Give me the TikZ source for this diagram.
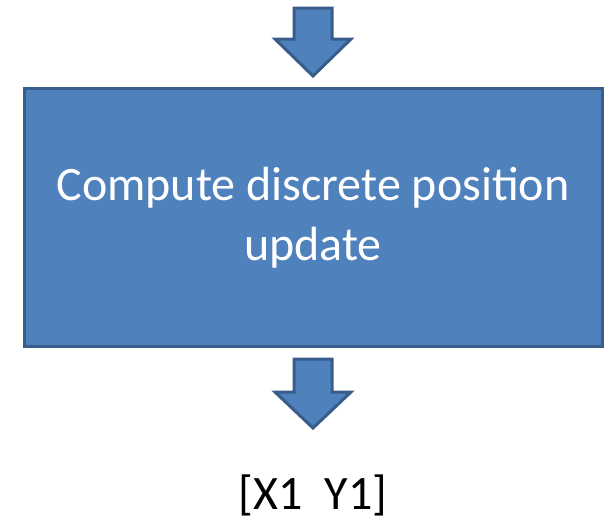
\documentclass[tikz,border=0pt]{standalone}
\usepackage{fontspec}
\setmainfont{Carlito}
\definecolor{stepfill}{RGB}{79,129,189}
\definecolor{stepline}{RGB}{56,93,138}
\begin{document}
\begin{tikzpicture}[x=1pt,y=-1pt,
  boxfill/.style={fill=stepfill},
  boxline/.style={draw=stepline, line width=3pt},
  blockarrow/.style={boxfill, boxline, line join=miter}]
  \useasboundingbox (0,0) rectangle (606,520);
  % incoming arrow
  \draw[blockarrow] (294,8) -- (332,8) -- (332,39) -- (351,39) -- (313,76) -- (275,39) -- (294,39) -- cycle;
  % process box
  \node[boxfill, boxline, minimum width=578pt, minimum height=258pt, inner sep=0pt,
        align=center, text=white, font=\fontsize{48}{60}\selectfont] (proc) at (313,217.5)
        {Compute discrete position\\update};
  % outgoing arrow
  \draw[blockarrow] (294,359) -- (332,359) -- (332,392) -- (351,392) -- (313,428) -- (275,392) -- (294,392) -- cycle;
  % result
  \node[font=\fontsize{48}{58}\selectfont, inner sep=0pt] (res) at (313,495) {[X1\ \ Y1]};
\end{tikzpicture}
\end{document}
